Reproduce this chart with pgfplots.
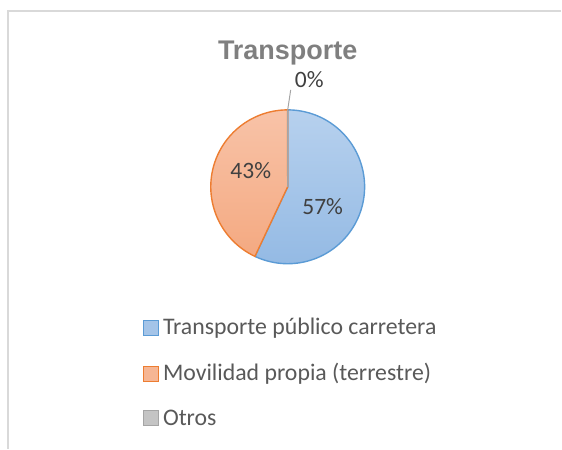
\documentclass[border=0pt]{standalone}
\usepackage{pgfplots}
\usepackage{pgfplotstable}
\pgfplotsset{compat=1.18}
\usepackage{fontspec}
\setmainfont{Carlito}
\newfontfamily\titlefont{Liberation Sans}

\definecolor{bluefillT}{HTML}{B7D1EE}
\definecolor{bluefillB}{HTML}{94BAE4}
\definecolor{blueedge}{HTML}{5B9BD5}
\definecolor{orfillT}{HTML}{F8C3A8}
\definecolor{orfillB}{HTML}{F4A981}
\definecolor{oredge}{HTML}{ED7D31}
\definecolor{greyedge}{HTML}{A5A5A5}
\definecolor{greyfill}{HTML}{C4C4C4}
\definecolor{frame}{HTML}{D9D9D9}
\definecolor{titlecol}{HTML}{7F7F7F}
\definecolor{labcol}{HTML}{404040}
\definecolor{legcol}{HTML}{595959}

\pgfplotstableread{
label value
Publico 57
Propia 43
Otros 0
}\piedata

\begin{document}
\begin{tikzpicture}
\pgfplotstablegetelem{0}{value}\of\piedata \let\vA\pgfplotsretval
\pgfplotstablegetelem{1}{value}\of\piedata \let\vB\pgfplotsretval
\pgfplotstablegetelem{2}{value}\of\piedata \let\vC\pgfplotsretval
\pgfmathsetmacro{\tot}{\vA+\vB+\vC}
\pgfmathsetmacro{\aStart}{90}
\pgfmathsetmacro{\aA}{90-\vA/\tot*360}
\pgfmathsetmacro{\aB}{\aA-\vB/\tot*360}
\def\cx{288}\def\cy{262}\def\rr{77}
\begin{axis}[
  scale only axis, width=562bp, height=449bp,
  xmin=0, xmax=562, ymin=0, ymax=449,
  hide axis, clip=false,
]
% frame
\addplot[draw=frame, line width=1.2pt, forget plot] coordinates {(8,0) (8,438) (562,438)};
% slice 1 (57%)
\addplot[draw=blueedge, line width=1.4pt, top color=bluefillT, bottom color=bluefillB,
  domain=\aA:\aStart, samples=120, variable=\t]
  ({\cx+\rr*cos(\t)},{\cy+\rr*sin(\t)}) -- (\cx,\cy) -- cycle;
% slice 2 (43%)
\addplot[draw=oredge, line width=1.4pt, top color=orfillT, bottom color=orfillB,
  domain=\aB:\aA, samples=120, variable=\t]
  ({\cx+\rr*cos(\t)},{\cy+\rr*sin(\t)}) -- (\cx,\cy) -- cycle;
% slice 3 (0%)
\addplot[draw=greyedge, line width=1.4pt] coordinates {(288,262) (288,339)};
% leader line
\addplot[draw=greyedge, line width=1pt] coordinates {(288,339) (291,359)};
% labels
\node[text=labcol, font=\fontsize{23.5bp}{28bp}\selectfont] at (axis cs:323,242) {57\%};
\node[text=labcol, font=\fontsize{23.5bp}{28bp}\selectfont] at (axis cs:251,278) {43\%};
\node[text=labcol, font=\fontsize{23.5bp}{28bp}\selectfont, anchor=base west, inner sep=0pt] at (axis cs:295,361) {0\%};
% title
\node[text=titlecol, font=\titlefont\bfseries\fontsize{27bp}{32bp}\selectfont, anchor=base, inner sep=0pt] at (axis cs:288,389) {Transporte};
% legend
\draw[blueedge, line width=1pt, fill=bluefillB!85!white] (axis cs:144,113) rectangle (axis cs:159,128);
\node[text=legcol, anchor=west, inner sep=0pt, font=\fontsize{23.8bp}{28bp}\selectfont] at (axis cs:163,120.5) {Transporte público carretera};
\draw[oredge, line width=1pt, fill=orfillB!85!white] (axis cs:144,67) rectangle (axis cs:159,82);
\node[text=legcol, anchor=west, inner sep=0pt, font=\fontsize{23.8bp}{28bp}\selectfont] at (axis cs:163,74.5) {Movilidad propia (terrestre)};
\draw[greyedge, line width=1pt, fill=greyfill] (axis cs:144,23) rectangle (axis cs:159,38);
\node[text=legcol, anchor=west, inner sep=0pt, font=\fontsize{23.8bp}{28bp}\selectfont] at (axis cs:163,30.5) {Otros};
\end{axis}
\useasboundingbox (0,0) rectangle (562bp,449bp);
\end{tikzpicture}
\end{document}
